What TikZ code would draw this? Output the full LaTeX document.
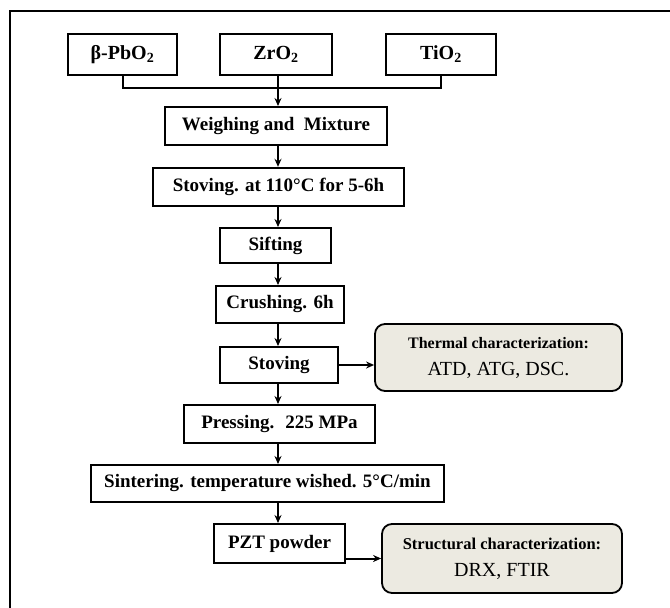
\documentclass[tikz,border=0pt]{standalone}
\usepackage{fontspec}
\setmainfont{Liberation Serif}
\usetikzlibrary{arrows.meta}
\definecolor{beige}{RGB}{236,234,225}
\begin{document}
\begin{tikzpicture}[x=1pt,y=-1pt,
  box/.style={draw=black, line width=2pt, fill=white, inner sep=0pt,
    font=\fontsize{19}{21}\selectfont\bfseries},
  topbox/.style={box, minimum width=110pt, minimum height=41pt,
    font=\fontsize{20}{22}\selectfont\bfseries},
  charbox/.style={draw=black, line width=1.8pt, fill=beige, rounded corners=10pt,
    inner sep=0pt, align=center, font=\fontsize{16}{27}\selectfont},
  conn/.style={line width=2pt},
  arr/.style={line width=2pt, -{Stealth[length=8pt,width=7pt]}},
  frame/.style={line width=1.5pt}]
\useasboundingbox (0,0) rectangle (670,608);
\draw[frame] (10,608) -- (10,11) -- (670,11);
\coordinate (spine) at (278,0);
% top boxes
\node[topbox, minimum width=109pt] (pb) at (122.5,54.5) {β-PbO\textsubscript{2}};
\node[topbox, minimum width=112pt] (zr) at (276,54.5) {ZrO\textsubscript{2}};
\node[topbox, minimum width=110pt] (ti) at (441,54.5) {TiO\textsubscript{2}};
% process boxes
\node[box, minimum width=222pt, minimum height=38pt] (wm) at (276,126) {Weighing and~ Mixture};
\node[box, minimum width=251pt, minimum height=38pt, line width=2.4pt] (st1) at (278.5,187) {Stoving. at 110°C for 5-6h};
\node[box, minimum width=111pt, minimum height=35pt] (sift) at (275.5,245.5) {Sifting};
\node[box, minimum width=128pt, minimum height=37pt] (crush) at (280,304.5) {Crushing. 6h};
\node[box, minimum width=118pt, minimum height=36pt] (stov) at (279,365) {Stoving};
\node[box, minimum width=191pt, minimum height=38pt] (press) at (279.5,424) {Pressing.~ 225 MPa};
\node[box, minimum width=353pt, minimum height=37pt] (sint) at (267.5,483.5) {Sintering. temperature wished. 5°C/min};
\node[box, minimum width=131pt, minimum height=39pt] (pzt) at (279.5,543.5) {PZT powder};
% characterization boxes
\node[charbox, minimum width=247pt, minimum height=67pt] (therm) at (498.5,357.5)
  {\bfseries Thermal characterization:\\
   \fontsize{20}{27}\selectfont ATD, ATG, DSC.};
\node[charbox, minimum width=240pt, minimum height=69pt] (struct) at (502,558.5)
  {\fontsize{16.5}{27}\selectfont\bfseries Structural characterization:\\
   \fontsize{20}{27}\selectfont DRX, FTIR};
% merging connector
\coordinate (mergeL) at (122.5,88);
\coordinate (mergeR) at (441,88);
\draw[conn] (pb.south) -- (mergeL) -- (mergeR) -- (ti.south);
\draw[arr] (zr.south -| spine) -- (wm.north -| spine);
% spine arrows
\draw[arr] (wm.south -| spine) -- (st1.north -| spine);
\draw[arr] (st1.south -| spine) -- (sift.north -| spine);
\draw[arr] (sift.south -| spine) -- (crush.north -| spine);
\draw[arr] (crush.south -| spine) -- (stov.north -| spine);
\draw[arr] (stov.south -| spine) -- (press.north -| spine);
\draw[arr] (press.south -| spine) -- (sint.north -| spine);
\draw[arr] (sint.south -| spine) -- (pzt.north -| spine);
% side arrows
\draw[arr] (stov.east) -- (therm.west |- stov.east);
\draw[arr] (pzt.east |- struct.west) -- (struct.west);
\end{tikzpicture}
\end{document}
